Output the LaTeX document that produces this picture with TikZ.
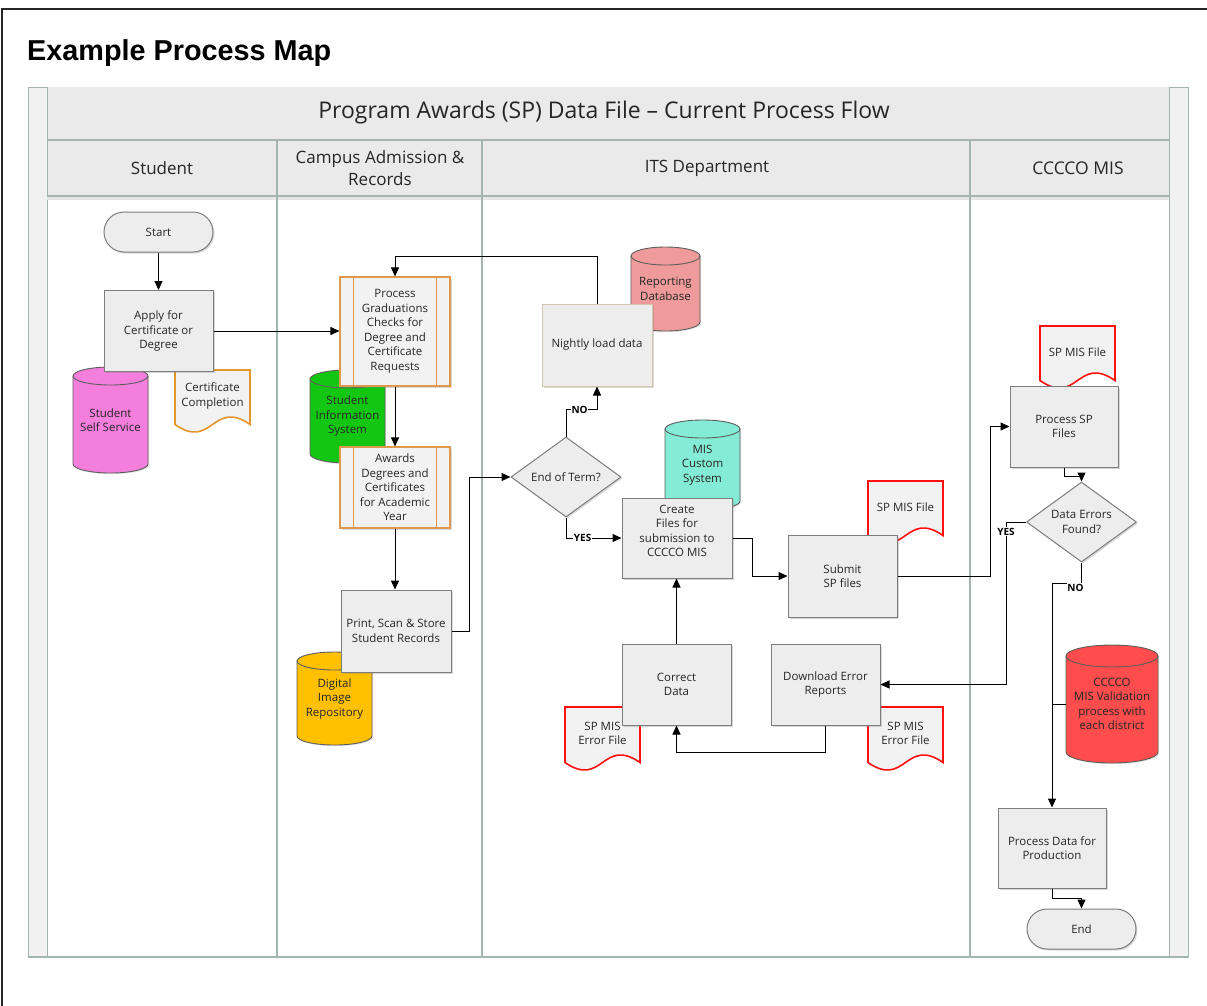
\documentclass[tikz,border=0pt]{standalone}
\usepackage{fontspec}
\setmainfont{Open Sans}
\newfontfamily\titlefont{Liberation Sans}
\usetikzlibrary{arrows.meta,shapes.geometric,shadows}

\definecolor{boxfill}{HTML}{EDEDED}
\definecolor{boxline}{HTML}{7D7D7D}
\definecolor{docfill}{HTML}{F2F2F2}
\definecolor{lanefill}{HTML}{EAEAEA}
\definecolor{stripfill}{HTML}{F1F1F1}
\definecolor{laneline}{HTML}{A3B5AC}
\definecolor{predefline}{HTML}{E0994C}
\definecolor{nightline}{HTML}{CFC8AE}
\definecolor{docred}{HTML}{FF1010}
\definecolor{docorange}{HTML}{E3962E}
\definecolor{dbline}{HTML}{5E5E5E}
\definecolor{magentadb}{HTML}{F37EDB}
\definecolor{greendb}{HTML}{12C612}
\definecolor{golddb}{HTML}{FFC000}
\definecolor{pinkdb}{HTML}{EF9B9B}
\definecolor{tealdb}{HTML}{84EBD6}
\definecolor{reddb}{HTML}{FF4C4C}
\definecolor{inktext}{HTML}{262626}

\newcommand\boxfont{\fontsize{11.5}{14.5}\selectfont}

% database cylinder: name, centre x, centre y, width, height, fill, text, ellipse radius
\newcommand\dbcyl[8]{%
  \filldraw[fill=#6, draw=dbline, line width=0.9pt, dbshadow]
    (#2-#4/2,#3+#5/2-#8) -- (#2-#4/2,#3-#5/2+#8)
    arc[start angle=180, end angle=360, x radius=#4/2, y radius=#8]
    -- (#2+#4/2,#3+#5/2-#8)
    arc[start angle=0, end angle=180, x radius=#4/2, y radius=#8] -- cycle;
  \draw[dbline, line width=0.9pt] (#2-#4/2,#3+#5/2-#8)
    arc[start angle=180, end angle=360, x radius=#4/2, y radius=#8];
  \node[dbtext, minimum width=#4, minimum height=#5] (#1) at (#2,#3) {#7};
}

% document with a wavy lower edge: name, left x, top y, width, height, line colour, text
\newcommand\docnode[7]{%
  \filldraw[fill=docfill, draw=#6, line width=1.6pt]
    (#2,#3) -- (#2+#4,#3) -- (#2+#4,#3-#5+7.5)
    .. controls (#2+0.5*#4,#3-#5+33.5) and (#2+0.5*#4,#3-#5-18.5) .. (#2,#3-#5+7.5)
    -- cycle;
  \node[dbtext] (#1) at (#2+#4/2,#3-#5/2+5) {#7};
}

\begin{document}
\begin{tikzpicture}[x=1pt, y=1pt,
  boxshadow/.style={drop shadow={shadow xshift=1.5pt, shadow yshift=-1.5pt, opacity=0.3}},
  dbshadow/.style={drop shadow={shadow xshift=1.2pt, shadow yshift=-1.2pt, opacity=0.2}},
  proc/.style={rectangle, draw=boxline, fill=boxfill, line width=1pt,
    minimum width=109pt, minimum height=81pt, align=center, font=\boxfont,
    text=inktext, boxshadow},
  predef/.style={proc, draw=predefline, fill=docfill, line width=1.2pt},
  term/.style={proc, minimum height=40pt, rounded corners=20pt},
  decision/.style={diamond, aspect=1.375, draw=boxline, fill=boxfill, line width=1pt,
    minimum width=110pt, minimum height=80pt, inner sep=0pt, align=center,
    font=\boxfont, text=inktext, boxshadow},
  dbtext/.style={align=center, font=\boxfont, text=inktext, inner sep=1pt},
  headtext/.style={align=center, font=\fontsize{17}{22}\selectfont, text=inktext},
  conn/.style={draw=black, line width=1pt, -{Triangle[length=9pt,width=8pt]}},
  plainline/.style={draw=black, line width=1pt},
  flowlabel/.style={font=\bfseries\fontsize{10}{12}\selectfont, fill=white, inner sep=0.8pt}]

\useasboundingbox (0,0) rectangle (1207,-1005);
\clip (0,0) rectangle (1207,-1005);
\fill[white] (0,0) rectangle (1207,-1005);

% page frame
\draw[black!85, line width=1.5pt] (2,-1020) -- (2,-9) -- (1220,-9);

% heading
\node[anchor=base west, inner sep=0pt, font=\titlefont\bfseries\fontsize{28.8}{32}\selectfont]
  (maptitle) at (27,-60) {Example Process Map};

% pool and lanes
\draw[laneline, line width=1pt, fill=stripfill] (28,-87) rectangle (1188,-957);
\fill[lanefill] (47,-87) rectangle (1169,-196);
\fill[white] (47,-196) rectangle (1169,-957);
\draw[laneline, line width=1pt] (47,-87) -- (47,-957) (1169,-87) -- (1169,-957);
\draw[laneline, line width=1.5pt] (47,-140) -- (1169,-140);
\fill[black!10] (47,-197) rectangle (1169,-200);
\draw[laneline, line width=2pt] (47,-196) -- (1169,-196);
\foreach \lx in {277,482,970}
  \draw[laneline, line width=1.5pt] (\lx,-140) -- (\lx,-957);
\draw[laneline, line width=1.5pt] (28,-957) -- (1188,-957);

\node[headtext, font=\fontsize{23}{28}\selectfont] (pooltitle) at (604,-113)
  {Program Awards (SP) Data File – Current Process Flow};
\node[headtext] (hstudent) at (162,-168) {Student};
\node[headtext] (hcampus) at (380,-168) {Campus Admission \&\\Records};
\node[headtext] (hits) at (707,-168) {ITS Department};
\node[headtext, font=\fontsize{17.5}{22}\selectfont] (hmis) at (1078,-168) {CCCCO MIS};

% data stores and documents
\dbcyl{ssdb}{110.5}{-420}{75}{106}{magentadb}{Student\\Self Service}{9}
\docnode{certdoc}{175}{-370}{75}{62}{docorange}{Certificate\\Completion}
\dbcyl{sisdb}{347.5}{-416.5}{75}{93}{greendb}{Student\\Information\\System}{9}
\dbcyl{dirdb}{334.5}{-698.5}{75}{93}{golddb}{Digital\\Image\\Repository}{9}
\dbcyl{repdb}{665.5}{-289}{69}{84}{pinkdb}{Reporting\\Database}{9}
\dbcyl{misdb}{702.5}{-465}{75}{90}{tealdb}{MIS\\Custom\\System}{9}
\docnode{spfileits}{868}{-481}{75}{62}{docred}{SP MIS File}
\docnode{errleft}{565}{-707}{75}{63}{docred}{SP MIS\\Error File}
\docnode{errright}{868}{-707}{75}{63}{docred}{SP MIS\\Error File}
\docnode{spfilemis}{1040}{-326}{75}{62}{docred}{SP MIS File}
\dbcyl{valdb}{1112}{-704}{92}{118}{reddb}{CCCCO\\MIS Validation\\process with\\each district}{11}

% process steps
\node[term] (start) at (158.5,-232) {Start};
\node[proc] (apply) at (158.5,-331) {Apply for\\Certificate or\\Degree};
\node[predef, minimum width=110pt, minimum height=109pt] (pgrad) at (395,-331.5)
  {Process\\Graduations\\Checks for\\Degree and\\Certificate\\Requests};
\node[predef, minimum width=110pt] (awards) at (395,-487.5)
  {Awards\\Degrees and\\Certificates\\for Academic\\Year};
\foreach \pn in {pgrad,awards}{
  \draw[predefline, line width=1.2pt] ([xshift=14pt]\pn.north west) -- ([xshift=14pt]\pn.south west);
  \draw[predefline, line width=1.2pt] ([xshift=-14pt]\pn.north east) -- ([xshift=-14pt]\pn.south east);
}
\node[proc, minimum width=110pt, minimum height=82pt] (print) at (396,-631)
  {Print, Scan \& Store\\Student Records};
\node[proc, draw=nightline, minimum width=110pt, minimum height=82pt] (nightly) at (597,-345)
  {Nightly load data};
\node[decision] (eot) at (566,-477) {End of Term?};
\node[proc, minimum width=110pt, minimum height=80pt] (create) at (677,-538) {};
\node[dbtext] (createtext) at (677,-531)
  {Create\\Files for\\submission to\\CCCCO MIS};
\node[proc, minimum height=82pt] (submit) at (842.5,-576) {Submit\\SP files};
\node[proc] (correct) at (676.5,-684.5) {Correct\\Data};
\node[proc] (download) at (825.5,-684.5) {Download Error\\Reports};
\node[proc, minimum width=108pt] (procsp) at (1064,-426.5) {Process SP\\Files};
\node[decision] (errq) at (1081.5,-522) {Data Errors\\Found?};
\node[proc, minimum width=108pt, minimum height=80pt] (prodproc) at (1052,-848)
  {Process Data for\\Production};
\node[term] (finish) at (1081.5,-929) {End};

% connectors
\draw[conn] (start) -- (apply);
\draw[conn] (apply.east) -- (apply.east -| pgrad.west);
\draw[conn] (nightly.north) -- ++(0,47) -| (pgrad.north);
\draw[conn] (pgrad.south) -- (awards.north);
\draw[conn] (awards.south) -- (awards.south |- print.north);
\draw[conn] (print.east) -- ++(18,0) |- (eot.west);
\draw[conn] (eot.north) -- ++(0,27) -| node[flowlabel, pos=0.22] {NO} (nightly.south);
\draw[conn] (eot.south) |- node[flowlabel, pos=0.65] {YES} (create.west);
\draw[conn] (create.east) -- ++(20,0) |- (submit.west);
\draw[conn] (submit.east) -- ++(93,0) |- (procsp.west);
\draw[conn] (procsp.south) -- ++(0,-9) -| (errq.north);
\draw[conn] (errq.west) -- ++(-20,0) |- node[flowlabel, pos=0.03] {YES} (download.east);
\draw[conn] (errq.south) -- ++(0,-21) coordinate (nobend) -| (prodproc.north);
\node[flowlabel] (nolabel) at ([xshift=-6pt,yshift=-4pt]nobend) {NO};
\draw[plainline] (valdb.west) -- (valdb.west -| prodproc.north);
\draw[conn] (download.south) -- ++(0,-27) -| (correct.south);
\draw[conn] (correct.north) -- (correct.north |- create.south);
\draw[conn] (prodproc.south) -- ++(0,-10) -| (finish.north);

\end{tikzpicture}
\end{document}
